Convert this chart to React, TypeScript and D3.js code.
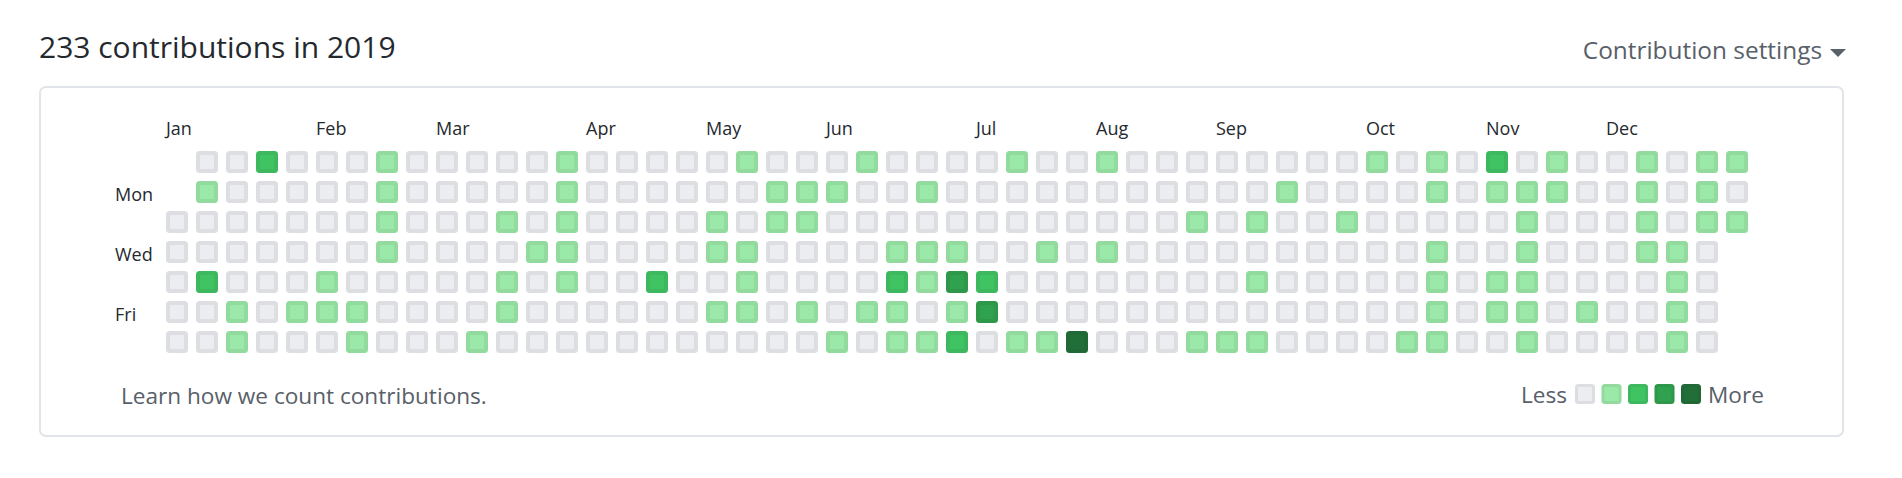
import React from "react";
import * as d3 from "d3";

const YEAR = 2019;
const TITLE = "233 contributions in 2019";
const SETTINGS_LABEL = "Contribution settings";
const FOOTER_TEXT = "Learn how we count contributions.";
const monthNames = ["Jan", "Feb", "Mar", "Apr", "May", "Jun", "Jul", "Aug", "Sep", "Oct", "Nov", "Dec"];
const dayNames = ["", "Mon", "", "Wed", "", "Fri", ""];
const levelColors = ["#ebedf0", "#9be9a8", "#40c463", "#30a14e", "#216e39"];
const legendLevels = [0, 1, 2, 3, 4];

// contribution level per weekday row (Sun..Sat), one character per week column, "-" = outside the year
const rowSun = "-002000100" + "0001000001" + "0001000010" + "0100000000" + "1010201001" + "011";
const rowMon = "-100000100" + "0001000000" + "1110010000" + "0000000100" + "0010111001" + "010";
const rowTue = "0000000100" + "0101000010" + "1100000000" + "0000101001" + "0000010001" + "011";
const rowWed = "0000000100" + "0011000011" + "0000111001" + "0100000000" + "0010010001" + "10-";
const rowThu = "0200010000" + "0101002001" + "0000213200" + "0000001000" + "0010110000" + "10-";
const rowFri = "0010111000" + "0100000011" + "0101101300" + "0000000000" + "0010110100" + "10-";
const rowSat = "0010001000" + "1000000000" + "0010112011" + "4000111000" + "0110010000" + "10-";
const weekdayRows = [rowSun, rowMon, rowTue, rowWed, rowThu, rowFri, rowSat];

const W = 1902;
const H = 478;
const FONT = "'Segoe UI', 'Open Sans', 'Noto Sans', sans-serif";
const OUTLINE = "rgba(27,31,35,0.07)";

function Cell({ x, y, size, ring, fill }: { x: number; y: number; size: number; ring: number; fill: string }) {
  return (
    <g>
      <rect x={x} y={y} width={size} height={size} rx={3.5} fill={fill} />
      <rect
        x={x + ring / 2}
        y={y + ring / 2}
        width={size - ring}
        height={size - ring}
        rx={2}
        fill="none"
        stroke={OUTLINE}
        strokeWidth={ring}
      />
    </g>
  );
}

export default function App() {
  const start = new Date(YEAR, 0, 1);
  const end = new Date(YEAR + 1, 0, 1);
  const days = d3.timeDay.range(start, end).map((d) => {
    const week = d3.timeWeek.count(d3.timeYear(d), d);
    const dow = d.getDay();
    const ch = weekdayRows[dow][week];
    return { date: d, week, dow, level: ch === "-" ? 0 : +ch };
  });
  const nWeeks = d3.max(days, (d) => d.week)! + 1;

  const pitch = 30;
  const cell = 22;
  const gx0 = 166;
  const gy0 = 151;
  const x = d3.scaleLinear().domain([0, nWeeks]).range([gx0, gx0 + pitch * nWeeks]);
  const y = d3.scaleLinear().domain([0, 7]).range([gy0, gy0 + pitch * 7]);

  // month labels: at the first week whose first displayed day is in a new month
  const weekFirst = d3.rollups(days, (v) => d3.min(v, (d) => d.date)!, (d) => d.week).sort((a, b) => a[0] - b[0]);
  const monthLabels: { week: number; name: string }[] = [];
  let prevMonth = -1;
  for (const [week, first] of weekFirst) {
    const m = first.getMonth();
    if (m !== prevMonth) {
      monthLabels.push({ week, name: monthNames[m] });
      prevMonth = m;
    }
  }

  const legendX = d3.scaleLinear().domain([0, 4]).range([1575, 1681]);

  return (
    <div style={{ position: "absolute", left: 0, top: 0, width: W, height: H, background: "#fff" }}>
      <svg width={W} height={H} style={{ display: "block", fontFamily: FONT }}>
        <text x={39} y={58} fontSize={30} fill="#24292e">{TITLE}</text>
        <text x={1822} y={59} fontSize={24.4} fill="#586069" textAnchor="end">{SETTINGS_LABEL}</text>
        <path d="M1830,49 L1846,49 L1838,57 Z" fill="#586069" />

        <rect x={40} y={87} width={1803} height={349} rx={6} fill="none" stroke="#e1e4e8" strokeWidth={2} />

        {monthLabels.map((m) => (
          <text key={m.name} x={x(m.week)} y={135} fontSize={18} fill="#24292e">{m.name}</text>
        ))}
        {dayNames.map((n, i) =>
          n ? (
            <text key={n} x={115} y={y(i) + 20} fontSize={18} fill="#24292e">{n}</text>
          ) : null
        )}

        {days.map((d) => (
          <Cell key={+d.date} x={x(d.week)} y={y(d.dow)} size={cell} ring={4} fill={levelColors[d.level]} />
        ))}

        <text x={121} y={404} fontSize={22.6} fill="#586069">{FOOTER_TEXT}</text>

        <text x={1567} y={403} fontSize={22.6} fill="#586069" textAnchor="end">Less</text>
        {legendLevels.map((l) => (
          <Cell key={l} x={legendX(l)} y={384} size={20} ring={3} fill={levelColors[l]} />
        ))}
        <text x={1708} y={403} fontSize={22.6} fill="#586069">More</text>
      </svg>
    </div>
  );
}
